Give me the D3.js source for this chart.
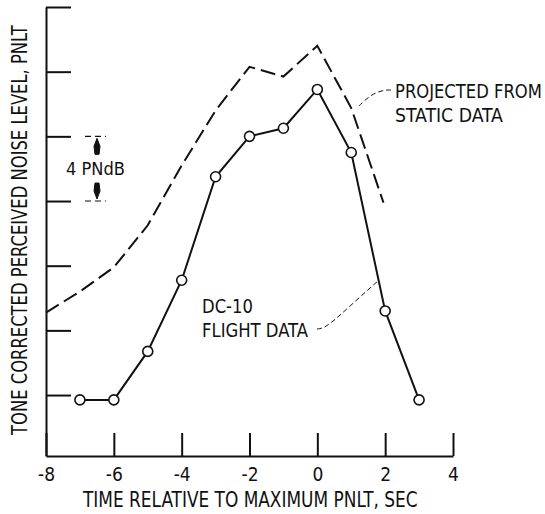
<!DOCTYPE html>
<html>
<head>
<meta charset="utf-8">
<script src="https://cdn.jsdelivr.net/npm/d3@7"></script>
<style>
  body { margin: 0; background: #fff; }
  svg { display: block; }
  text { font-family: "Liberation Sans Narrow", "DejaVu Sans Condensed", "Liberation Sans", sans-serif; fill: #111; }
</style>
</head>
<body>
<div id="chart"></div>
<script>

// time relative to max PNLT (sec)
var flightTime = [-7, -6, -5, -4, -3, -2, -1, 0, 1, 2, 3]
// DC-10 flight data, PNdB above an arbitrary base
var flightLevel = [3.7, 3.7, 6.7, 11.1, 17.5, 20.0, 20.5, 22.9, 19.0, 9.2, 3.7]

var projTime = [-8, -7, -6, -5, -4, -3, -2, -1, 0, 1, 1.95]
// projected from static data
var projLevel = [9.1, 10.4, 11.9, 14.5, 18.2, 21.6, 24.3, 23.7, 25.6, 21.75, 15.9]

var xTicks = [-8, -6, -4, -2, 0, 2, 4]
var yTicks = [4, 8, 12, 16, 20, 24, 28]

var width = 545, height = 514

var x = d3.scaleLinear().domain([-8, 4]).range([46, 453])
var y = d3.scaleLinear().domain([0.23, 28]).range([456, 7])

var svg = d3.select('#chart')
    .append('svg')
    .attr('width', width)
    .attr('height', height)

// squeeze a text horizontally so it takes w px, placed at (tx,ty) with rotation rot
function fitText(g, tx, ty, rot, w, size, str) {
    var t = g.append('text')
        .style('font-size', size + 'px')
        .text(str)
    var len = t.node().getComputedTextLength()
    var k = w / len
    t.attr('transform', 'translate(' + tx + ',' + ty + ') rotate(' + rot + ') scale(' + k + ',1)')
    return t
}

// x axis, ticks pointing up into the plot
svg.append('g')
    .attr('class', 'x-axis')
    .attr('transform', 'translate(0,' + y.range()[0] + ')')
    .call(d3.axisBottom(x)
        .tickValues(xTicks)
        .tickSizeInner(-23)
        .tickSizeOuter(0)
        .tickPadding(12)
        .tickFormat(d => String(d)))
    .call(sel => {
        sel.select('.domain').attr('stroke', '#111').attr('stroke-width', 2)
        sel.selectAll('.tick line').attr('stroke', '#111').attr('stroke-width', 2)
        sel.selectAll('.tick text')
            .style('font-size', '19px')
            .attr('fill', '#111')
    })

// y axis, no labels
svg.append('g')
    .attr('class', 'y-axis')
    .attr('transform', 'translate(' + x.range()[0] + ',0)')
    .call(d3.axisLeft(y)
        .tickValues(yTicks)
        .tickSizeInner(-25)
        .tickSizeOuter(0)
        .tickFormat(''))
    .call(sel => {
        sel.select('.domain').attr('stroke', '#111').attr('stroke-width', 2)
        sel.selectAll('.tick line').attr('stroke', '#111').attr('stroke-width', 2)
    })

var flight = flightTime.map((t, i) => ({ t: t, v: flightLevel[i] }))
var proj = projTime.map((t, i) => ({ t: t, v: projLevel[i] }))

var line = d3.line()
    .x(d => x(d.t))
    .y(d => y(d.v))

svg.append('path')
    .datum(proj)
    .attr('class', 'projected')
    .attr('d', line)
    .attr('fill', 'none')
    .attr('stroke', '#111')
    .attr('stroke-width', 2)
    .attr('stroke-dasharray', '15,6')

svg.append('path')
    .datum(flight)
    .attr('class', 'flight')
    .attr('d', line)
    .attr('fill', 'none')
    .attr('stroke', '#111')
    .attr('stroke-width', 2)

svg.selectAll('.pt')
    .data(flight)
    .join('circle')
    .attr('class', 'pt')
    .attr('cx', d => x(d.t))
    .attr('cy', d => y(d.v))
    .attr('r', 5)
    .attr('fill', '#fff')
    .attr('stroke', '#111')
    .attr('stroke-width', 1.6)

// axis titles
var titles = svg.append('g').attr('class', 'titles')
fitText(titles, 83, 507, 0, 335, 21, 'TIME RELATIVE TO MAXIMUM PNLT,  SEC')
fitText(titles, 27, 435, -90, 410, 22, 'TONE CORRECTED PERCEIVED NOISE LEVEL,  PNLT')

// 4 PNdB scale bracket
var bx = 97
svg.selectAll('.bracket')
    .data([20, 16])
    .join('line')
    .attr('class', 'bracket')
    .attr('x1', 85).attr('x2', 106)
    .attr('y1', d => y(d)).attr('y2', d => y(d))
    .attr('stroke', '#111')
    .attr('stroke-width', 1.2)
    .attr('stroke-dasharray', '6,4')

var arrows = [
    { tip: y(20), dir: 1 },
    { tip: y(16), dir: -1 }
]
svg.selectAll('.arr')
    .data(arrows)
    .join('path')
    .attr('class', 'arr')
    .attr('d', d => {
        var s = d.dir
        return 'M' + bx + ',' + (d.tip + s * 2) +
            'L' + (bx + 3) + ',' + (d.tip + s * 10) +
            'L' + (bx + 2) + ',' + (d.tip + s * 18) +
            'L' + (bx - 2) + ',' + (d.tip + s * 18) +
            'L' + (bx - 3) + ',' + (d.tip + s * 10) + 'Z'
    })
    .attr('fill', '#111')
    .attr('stroke', '#111')
    .attr('stroke-width', 1)

var notes = svg.append('g').attr('class', 'notes')
fitText(notes, 66, 175, 0, 59, 17, '4 PNdB')

// callouts
var labels = [
    { x: 395, y: 98, w: 147, s: 'PROJECTED FROM' },
    { x: 395, y: 122, w: 108, s: 'STATIC DATA' },
    { x: 202, y: 313, w: 51, s: 'DC-10' },
    { x: 202, y: 337, w: 106, s: 'FLIGHT DATA' }
]
labels.forEach(d => fitText(notes, d.x, d.y, 0, d.w, 19, d.s))

var leader = d3.line().curve(d3.curveBasis)
svg.selectAll('.leader')
    .data([
        [[391, 90], [383, 90], [370, 95], [357, 108]],
        [[317, 329], [326, 328], [350, 306], [379, 280]]
    ])
    .join('path')
    .attr('class', 'leader')
    .attr('d', leader)
    .attr('fill', 'none')
    .attr('stroke', '#111')
    .attr('stroke-width', 1)
    .attr('stroke-dasharray', '5,3')

</script>
</body>
</html>
